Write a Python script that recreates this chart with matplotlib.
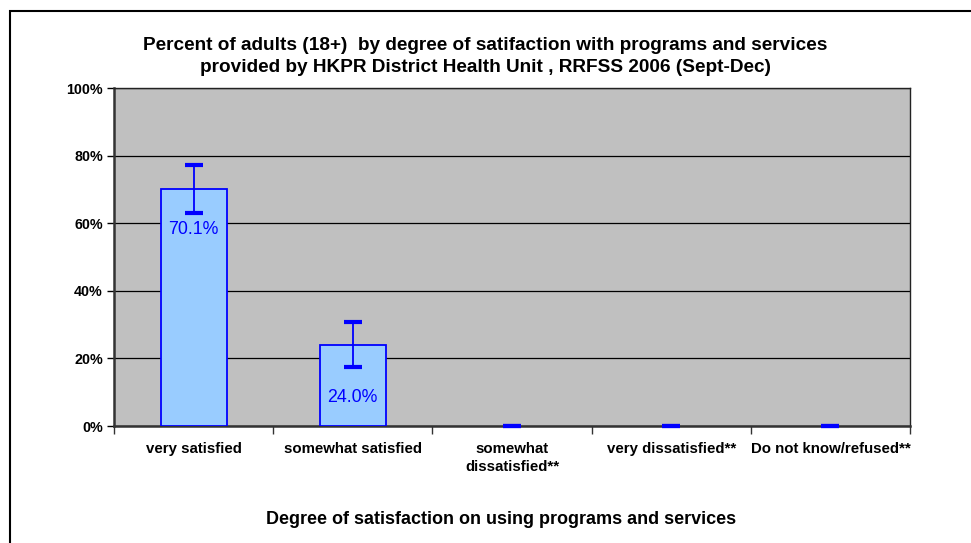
import numpy as np
import matplotlib
matplotlib.use('Agg')
import matplotlib.pyplot as plt
import matplotlib.ticker as mticker
from matplotlib.patches import Rectangle

plt.rcParams['font.family'] = ['Liberation Sans', 'DejaVu Sans']

categories = ['very satisfied', 'somewhat satisfied', 'somewhat\ndissatisfied**',
              'very dissatisfied**', 'Do not know/refused**']
values = [70.1, 24.0, 0, 0, 0]
err_low = [7.1, 6.6, 0, 0, 0]
err_high = [7.2, 6.8, 0, 0, 0]
labels = ['70.1%', '24.0%', '', '', '']
# how far below the bar top each label sits (points)
label_drop = [29, 38, 0, 0, 0]

title = ('Percent of adults (18+)  by degree of satifaction with programs and services\n'
         'provided by HKPR District Health Unit , RRFSS 2006 (Sept-Dec)')
xlabel = 'Degree of satisfaction on using programs and services'

fig = plt.figure(figsize=(9.71, 5.43), dpi=100)
ax = fig.add_axes([114/971, 1 - 426/543, (910 - 114)/971, (426 - 88)/543])

x = np.arange(len(categories))
vals = np.array(values)
ax.set_facecolor('#C0C0C0')
shown = vals > 0
ax.bar(x[shown], vals[shown], width=0.415, color='#99CCFF', edgecolor='#0000FF',
       linewidth=1.3, zorder=3)
ax.errorbar(x, values, yerr=[err_low, err_high], fmt='none', ecolor='#0000FF',
            elinewidth=1.3, capsize=6.3, capthick=3, zorder=4, clip_on=False)

for xi, v, lab, d in zip(x, values, labels, label_drop):
    if lab:
        ax.annotate(lab, (xi, v), xytext=(0, -d), textcoords='offset points',
                    ha='center', va='center', color='#0000FF', fontsize=12.8, zorder=5)

ax.set_xlim(-0.5, len(categories) - 0.5)
ax.set_ylim(0, 100)
ax.yaxis.set_major_locator(mticker.MultipleLocator(20))
ax.yaxis.set_major_formatter(mticker.FuncFormatter(lambda v, _: f'{v:.0f}%'))
ax.yaxis.grid(True, color='black', linewidth=0.9, zorder=1)
ax.set_axisbelow(True)

ax.set_xticks(np.arange(len(categories) + 1) - 0.5)
ax.set_xticklabels([])
ax.set_xticks(x, minor=True)
ax.set_xticklabels(categories, minor=True, fontsize=10.8, fontweight='bold',
                   linespacing=1.4)
ax.tick_params(axis='x', which='major', length=6, width=1, color='#333333')
ax.tick_params(axis='x', which='minor', length=0, pad=11.5)
ax.tick_params(axis='y', length=5, width=1, labelsize=10.3, pad=3)
for t in ax.get_yticklabels():
    t.set_fontweight('bold')

for side in ['left', 'bottom']:
    ax.spines[side].set_color('#333333')
    ax.spines[side].set_linewidth(1.8)
for side in ['top', 'right']:
    ax.spines[side].set_color('#222222')
    ax.spines[side].set_linewidth(1)

fig.text(0.5, 1 - 56.5/543, title, ha='center', va='center', fontsize=13.7,
         fontweight='bold', linespacing=1.35)
fig.text(501/971, 1 - 520/543, xlabel, ha='center', va='center', fontsize=13,
         fontweight='bold')

fig.patches.append(Rectangle((10/971, -0.1), 1.2, 1 - 11/543 + 0.1, transform=fig.transFigure,
                             fill=False, edgecolor='black', linewidth=1.5, clip_on=False))

fig.savefig('out.png', dpi=100)
